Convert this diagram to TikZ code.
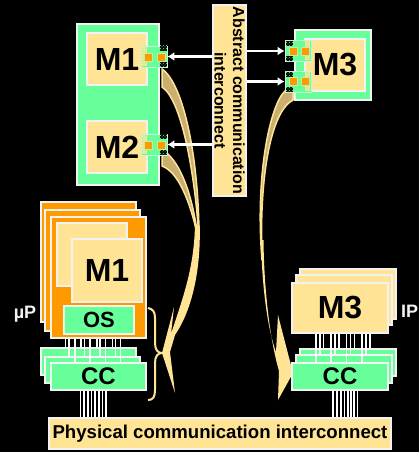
\documentclass[tikz,border=0pt]{standalone}
\usepackage{fontspec}
\setmainfont{Liberation Sans}
\usetikzlibrary{patterns, arrows.meta}
\definecolor{mint}{RGB}{102,255,153}
\definecolor{cream}{RGB}{255,228,150}
\definecolor{amber}{RGB}{255,153,0}
\definecolor{tan}{RGB}{201,176,112}
\definecolor{rim}{RGB}{242,242,242}
\tikzset{
  mintbox/.style={draw=rim, line width=1.2pt, fill=mint, inner sep=0pt, font=\bfseries\fontsize{24}{26}\selectfont},
  creambox/.style={draw=rim, line width=1.2pt, fill=cream, inner sep=0pt, font=\bfseries\fontsize{32}{34}\selectfont},
  amberbox/.style={draw=rim, line width=1.2pt, fill=amber, inner sep=0pt},
  portbox/.style={draw=rim!70!mint, line width=.7pt, fill=mint, inner sep=0pt, minimum width=26pt, minimum height=21pt},
  pin/.style={fill=amber, draw=cream!60!mint, line width=.5pt, inner sep=0pt, minimum size=8pt},
  wire/.style={draw=white, line width=1.2pt},
  link/.style={draw=white, line width=2.6pt, -{Latex[length=7pt,width=9pt]}},
  tag/.style={text=rim, font=\bfseries\fontsize{18}{20}\selectfont, inner sep=0pt},
  sweep/.style={fill=tan, draw=cream, line width=1.5pt},
  sweeptail/.style={fill=cream}
}
\begin{document}
\begin{tikzpicture}[x=1pt, y=-1pt]
\useasboundingbox (0,0) rectangle (419,452);
\fill[black] (0,0) rectangle (419,452);

% upper left block
\node[mintbox, minimum width=82pt, minimum height=161pt] (topleft) at (118,104.5) {};
\node[creambox, minimum width=60pt, minimum height=52pt] (m1) at (117,59) {M1};
\node[creambox, minimum width=60pt, minimum height=52pt] (m2) at (117,147) {M2};

% upper right block
\node[mintbox, minimum width=76pt, minimum height=70pt] (topright) at (333,65) {};
\node[creambox, minimum width=60pt, minimum height=52pt] (m3) at (335,65) {M3};

% sweeps behind the ports
\draw[sweep] (162,69) .. controls (184,84) and (199,160) .. (199,238)
  .. controls (195,175) and (182,100) .. (162,87) -- cycle;
\draw[sweep] (162,150) .. controls (178,158) and (192,190) .. (198,238)
  .. controls (190,200) and (178,172) .. (162,166) -- cycle;
\fill[sweeptail] (199.7,225) .. controls (201,270) and (192,310) .. (175,335)
  -- (170,352) -- (175,393) -- (162,353) -- (174,307) -- (171,334)
  .. controls (182,300) and (194,270) .. (195,225) -- cycle;
\draw[sweep] (285,91) .. controls (270,105) and (255,175) .. (262,260)
  .. controls (259,180) and (270,112) .. (293,100) -- (293,91) -- cycle;
\fill[sweeptail] (261,240) .. controls (262,290) and (268,330) .. (276,352)
  -- (278,315) -- (293,373) -- (278,400) -- (279,371)
  .. controls (270,340) and (264,290) .. (263.5,240) -- cycle;

% ports
\node[portbox] (port1) at (154,56.5) {};
\node[portbox] (port2) at (154,144.5) {};
\node[portbox] (port3) at (298,51) {};
\node[portbox] (port4) at (298,81.5) {};
\foreach \a/\b in {160/46, 160/62, 160/134, 160/150, 286/41, 286/56, 286/72, 286/87} {
  \fill[black] (\a,\b) rectangle +(7,5);
  \fill[pattern=crosshatch dots, pattern color=mint] (\a,\b) rectangle +(7,5);
}
\foreach \a/\b in {141.5/47, 141.5/135, 305/41, 305/72} {
  \fill[cream] (\a,\b) rectangle +(5,19);
  \fill[pattern=crosshatch dots, pattern color=mint] (\a,\b) rectangle +(5,19);
}
\node[pin] (pin1a) at (148.5,57.5) {};
\node[pin] (pin1b) at (161,57.5) {};
\node[pin] (pin2a) at (148.5,145.5) {};
\node[pin] (pin2b) at (161,145.5) {};
\node[pin] (pin3a) at (293,51) {};
\node[pin] (pin3b) at (305.5,51) {};
\node[pin] (pin4a) at (293,81.5) {};
\node[pin] (pin4b) at (305.5,81.5) {};

% abstract bar
\node[draw=rim, line width=1.2pt, fill=cream, inner sep=0pt, minimum width=191pt, minimum height=33pt,
  rotate=-90, align=center, font=\bfseries\fontsize{16}{18.5}\selectfont] (abstract) at (229.5,100.5)
  {Abstract communication\\interconnect};
\draw[link] (abstract.south |- port1) -- (port1.east);
\draw[link] (abstract.south |- port2) -- (port2.east);
\draw[link] (abstract.north |- port3) -- (port3.west);
\draw[link] (abstract.north |- port4) -- (port4.west);

% lower left stack
\node[amberbox, minimum width=95pt, minimum height=120pt] (cpuback) at (88.5,262) {};
\node[amberbox, minimum width=95pt, minimum height=121pt] (cpumid) at (92.5,270.5) {};
\node[amberbox, minimum width=95pt, minimum height=121pt] (cpufront) at (98.5,277.5) {};
\node[creambox, minimum width=70pt, minimum height=63pt] (m1back) at (92,254.5) {};
\node[creambox, minimum width=70pt, minimum height=63pt] (m1low) at (107,270.5) {M1};
\node[mintbox, minimum width=70pt, minimum height=28pt, font=\bfseries\fontsize{22}{24}\selectfont] (os) at (99,320) {OS};
\node[mintbox, minimum width=95pt, minimum height=27pt] (ccback) at (88.5,361.5) {};
\node[mintbox, minimum width=95pt, minimum height=26pt] (ccmid) at (92.5,370) {};
\node[mintbox, minimum width=95pt, minimum height=27pt] (ccleft) at (98.5,376.5) {CC};
\node[tag] (up) at (25,314) {µP};

% lower right stack
\node[creambox, minimum width=96pt, minimum height=50pt] (ipback) at (348,294) {};
\node[creambox, minimum width=96pt, minimum height=50pt] (ipmid) at (344,300) {};
\node[creambox, minimum width=96pt, minimum height=50pt] (m3low) at (340,308) {M3};
\node[mintbox, minimum width=96pt, minimum height=27pt] (ccrback) at (348,362.5) {};
\node[mintbox, minimum width=96pt, minimum height=28pt] (ccrmid) at (344,369) {};
\node[mintbox, minimum width=96pt, minimum height=27pt] (ccright) at (340,376.5) {CC};
\node[tag] (ip) at (409.5,311) {IP};

% bottom bar
\node[draw=rim, line width=1.2pt, fill=cream, inner sep=0pt, minimum width=342pt, minimum height=31pt,
  font=\bfseries\fontsize{18.6}{20}\selectfont] (bus) at (220,433.5) {Physical communication interconnect};

% wires
\foreach \x in {65.5,81,97,112.5} \draw[wire] (\x,0 |- cpufront.south) -- (\x,0 |- ccback.north);
\foreach \x in {69,84.5,100,115.5} \draw[wire] (\x,0 |- cpufront.south) -- (\x,0 |- ccmid.north);
\foreach \x in {75,90,105.5,120.5} \draw[wire] (\x,0 |- cpufront.south) -- (\x,0 |- ccleft.north);
\foreach \x in {80.5,84,88,91.5,95,99,102.5,106} \draw[wire] (\x,0 |- ccleft.south) -- (\x,0 |- bus.north);
\foreach \x in {323.5,339,354.5,370} \draw[wire] (\x,0 |- m3low.south) -- (\x,0 |- ccrback.north);
\foreach \x in {320,335,350.5,366} \draw[wire] (\x,0 |- m3low.south) -- (\x,0 |- ccrmid.north);
\foreach \x in {316,331,346.5,362} \draw[wire] (\x,0 |- m3low.south) -- (\x,0 |- ccright.north);
\foreach \x in {333,337,341,344.5,348,351,354,357.5} \draw[wire] (\x,0 |- ccright.south) -- (\x,0 |- bus.north);

% brace
\draw[cream, line width=2pt] (148,308) .. controls (153,309) and (155,312) .. (155,318)
  -- (155,343) .. controls (155,350) and (158,353) .. (162,353)
  .. controls (158,353) and (155,356) .. (155,363) -- (155,390)
  .. controls (155,397) and (153,400) .. (148,400);
\end{tikzpicture}
\end{document}
